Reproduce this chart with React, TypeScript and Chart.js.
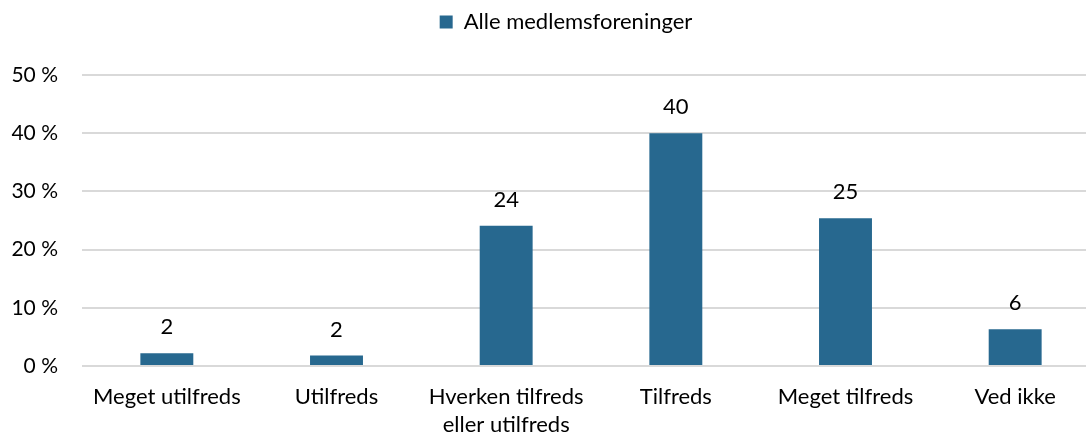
import React, { useEffect, useRef } from "react";
import { Chart, registerables } from "chart.js";

Chart.register(...registerables);

const categories: (string | string[])[] = [
  "Meget utilfreds",
  "Utilfreds",
  ["Hverken tilfreds", "eller utilfreds"],
  "Tilfreds",
  "Meget tilfreds",
  "Ved ikke",
];
const seriesLabel = "Alle medlemsforeninger";
const values = [2.2, 1.8, 24.1, 40.0, 25.4, 6.3];
const yTicks = [0, 10, 20, 30, 40, 50];

const FONT = "Lato, 'Open Sans', sans-serif";
const FONT_SIZE = 22;
const Y_FONT_SIZE = 21;
const BAR_COLOR = "#27688f";

const valueLabelPlugin = {
  id: "valueLabels",
  afterDatasetsDraw(chart: any) {
    const ctx = chart.ctx;
    const meta = chart.getDatasetMeta(0);
    ctx.save();
    ctx.font = `${FONT_SIZE}px ${FONT}`;
    ctx.fillStyle = "#000";
    ctx.textAlign = "center";
    ctx.textBaseline = "middle";
    meta.data.forEach((bar: any, i: number) => {
      const v = chart.data.datasets[0].data[i] as number;
      ctx.fillText(String(Math.round(v)), bar.x, bar.y - 26);
    });
    ctx.restore();
  },
};

const legendLayoutPlugin = {
  id: "legendLayout",
  beforeInit(chart: any) {
    const legend = chart.legend;
    if (!legend) return;
    const origFit = legend.fit;
    legend.fit = function () {
      origFit.call(this);
      this.height = 75;
    };
  },
  afterLayout(chart: any) {
    const legend = chart.legend;
    if (!legend) return;
    legend.left += 16;
    legend.right += 16;
  },
};

export default function App() {
  const ref = useRef<HTMLCanvasElement>(null);
  useEffect(() => {
    document.body.style.margin = "0";
    const chart = new Chart(ref.current!, {
      type: "bar",
      data: {
        labels: categories,
        datasets: [
          {
            label: seriesLabel,
            data: values,
            backgroundColor: BAR_COLOR,
            barPercentage: 0.312,
            categoryPercentage: 1,
          },
        ],
      },
      options: {
        responsive: false,
        animation: false,
        layout: { padding: { top: 0, right: 0, bottom: 0, left: 0 } },
        plugins: {
          tooltip: { enabled: false },
          legend: {
            position: "top",
            labels: {
              boxWidth: 13,
              boxHeight: 13,
              padding: 11,
              color: "#000",
              font: { family: FONT, size: FONT_SIZE },
            },
          },
        },
        scales: {
          x: {
            grid: { display: false, drawTicks: false },
            border: { display: false },
            ticks: {
              color: "#000",
              font: { family: FONT, size: FONT_SIZE, lineHeight: "28px" },
              padding: 17,
              maxRotation: 0,
              autoSkip: false,
            },
            afterFit(axis: any) {
              axis.height = 68;
            },
          },
          y: {
            min: 0,
            max: 50,
            afterBuildTicks(axis: any) {
              axis.ticks = yTicks.map((v) => ({ value: v }));
            },
            grid: { color: "#d9d9d9", lineWidth: 2, drawTicks: false },
            border: { display: false },
            ticks: {
              color: "#000",
              font: { family: FONT, size: Y_FONT_SIZE },
              padding: 24,
              callback: (v: any) => `${v} %`,
            },
            afterFit(axis: any) {
              axis.width = 82;
            },
          },
        },
      },
      plugins: [valueLabelPlugin, legendLayoutPlugin],
    });
    return () => chart.destroy();
  }, []);
  return (
    <div style={{ width: 1086, height: 434, overflow: "hidden", position: "relative" }}>
      <canvas ref={ref} width={1100} height={434} style={{ display: "block" }} />
    </div>
  );
}
